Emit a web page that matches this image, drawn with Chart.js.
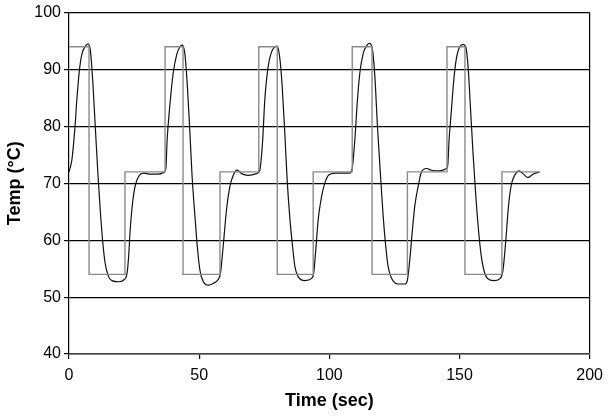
<!DOCTYPE html>
<html>
<head>
<meta charset="utf-8">
<script src="https://cdn.jsdelivr.net/npm/chart.js@4"></script>
<style>
  html, body { margin: 0; padding: 0; background: #fff; }
  #wrap { width: 610px; height: 417px; }
</style>
</head>
<body>
<div id="wrap"><canvas id="chart" width="610" height="417"></canvas></div>
<script>
// setpoint (gray step line)
const setTime = [0, 7.7, 21.5, 36.9, 43.8, 58, 72.9, 80, 93.8, 108.8, 116.4, 130, 145.2, 152.1, 166.3, 180.8];
const setTemp = [94, 54, 72, 94, 54, 72, 94, 54, 72, 94, 54, 72, 94, 54, 72, 72];

// measured temperature (black curve)
const measTime = [
  0, 1.1, 2.2, 3.1, 4.0, 5.0, 6.3, 7.3, 8.2, 9.1, 10.1, 11.1, 12.0, 12.9, 13.9, 15.2, 16.5, 19.1, 21.0, 22.3,
  22.9, 23.5, 24.4, 25.5, 27.0, 28.7, 31.2, 34.4, 36.4, 37.2, 37.7, 38.8, 40.0, 41.3, 42.6, 43.5, 44.5, 45.4, 46.4, 47.3,
  48.4, 49.3, 50.3, 51.6, 53.5, 55.4, 57.3, 58.2, 59.2, 60.5, 61.8, 63.1, 64.6, 66.3, 68.8, 72.1, 73.3, 74.4, 75.2, 76.5,
  77.8, 79.1, 80.0, 81.0, 81.9, 82.9, 83.8, 84.8, 85.9, 86.8, 88.0, 90.6, 93.2, 94.0, 94.8, 95.7, 97.0, 98.7, 100.2, 102.8,
  107.9, 108.8, 109.8, 110.7, 111.7, 113.0, 114.5, 115.5, 116.6, 117.5, 118.5, 119.7, 120.7, 121.7, 122.6, 123.9, 126.4, 129.0, 130.0, 130.9,
  131.8, 132.8, 134.1, 135.4, 137.3, 139.2, 142.4, 145.0, 145.5, 146.0, 146.9, 147.8, 148.8, 150.1, 151.4, 152.4, 153.3, 154.2, 155.2, 156.2,
  157.3, 158.4, 159.7, 161.3, 163.5, 165.7, 166.7, 167.8, 168.8, 169.9, 171.2, 172.9, 174.4, 176.3, 178.2, 180.8
];
const measTemp = [
  72.0, 74.1, 79.3, 85.2, 89.9, 92.8, 94.1, 94.5, 93.4, 88.1, 79.9, 71.7, 65.3, 60.0, 55.9, 53.6, 52.9, 52.7, 53.0, 54.2,
  57.1, 61.8, 66.5, 69.7, 71.4, 71.8, 71.6, 71.6, 71.9, 72.6, 77.6, 84.0, 89.3, 92.5, 94.0, 94.3, 92.8, 87.6, 79.3, 71.1,
  64.1, 58.8, 54.7, 52.7, 52.1, 52.4, 53.1, 54.2, 58.8, 65.3, 69.4, 71.4, 72.3, 71.7, 71.4, 71.7, 72.3, 77.6, 84.6, 90.5,
  93.1, 94.0, 94.1, 91.9, 87.0, 78.8, 70.6, 64.1, 58.8, 55.3, 53.6, 52.9, 53.3, 54.2, 58.3, 63.5, 67.6, 70.6, 71.6, 71.8,
  71.8, 72.6, 77.6, 84.0, 89.3, 92.8, 94.3, 94.6, 93.4, 88.7, 79.9, 71.1, 64.1, 58.8, 55.3, 53.3, 52.3, 52.3, 53.0, 56.5,
  61.2, 65.9, 69.4, 72.0, 72.6, 72.3, 72.2, 72.6, 73.2, 77.6, 82.9, 88.1, 91.9, 94.0, 94.4, 94.0, 90.5, 83.4, 75.3, 68.2,
  61.8, 57.1, 54.2, 53.1, 52.9, 53.3, 54.7, 60.0, 65.9, 69.7, 71.4, 72.2, 71.7, 71.0, 71.6, 72.0
];

const xTitle = 'Time (sec)';
const yTitle = 'Temp (°C)';

const FONT = "'Liberation Sans', Arial, Helvetica, sans-serif";

const setData = setTime.map((t, i) => ({ x: t, y: setTemp[i] }));
const measData = measTime.map((t, i) => ({ x: t, y: measTemp[i] }));

new Chart(document.getElementById('chart'), {
  type: 'line',
  data: {
    datasets: [
      {
        label: 'Setpoint',
        data: setData,
        borderColor: '#8a8a8a',
        borderWidth: 1.4,
        stepped: true,
        pointRadius: 0,
        fill: false
      },
      {
        label: 'Temperature',
        data: measData,
        borderColor: '#111',
        borderWidth: 1.2,
        cubicInterpolationMode: 'monotone',
        pointRadius: 0,
        fill: false
      }
    ]
  },
  options: {
    responsive: false,
    animation: false,
    layout: { padding: { left: 0, right: 20, top: 12, bottom: 0 } },
    plugins: {
      legend: { display: false },
      tooltip: { enabled: false }
    },
    scales: {
      x: {
        type: 'linear',
        min: 0,
        max: 200,
        afterFit: s => { s.height = 63; },
        ticks: { stepSize: 50, color: '#000', padding: 7, font: { family: FONT, size: 16 } },
        grid: {
          color: c => (c.tick && c.tick.value === 200) ? '#000' : 'rgba(0,0,0,0)',
          tickColor: '#000',
          tickLength: 5,
          lineWidth: 1.2
        },
        border: { color: '#444', width: 1.6 },
        title: { display: true, text: xTitle, color: '#000', padding: { top: 0, bottom: 5 }, font: { family: FONT, size: 18, weight: 'bold' } }
      },
      y: {
        min: 40,
        max: 100,
        afterFit: s => { s.width = 69; },
        ticks: { stepSize: 10, color: '#000', padding: 3, font: { family: FONT, size: 16 } },
        grid: { color: '#000', tickColor: '#000', tickLength: 5, lineWidth: 1.2 },
        border: { color: '#000', width: 1.2 },
        title: { display: true, text: yTitle, color: '#000', padding: { top: 4, bottom: 0 }, font: { family: FONT, size: 18, weight: 'bold' } }
      }
    }
  }
});
</script>
</body>
</html>
